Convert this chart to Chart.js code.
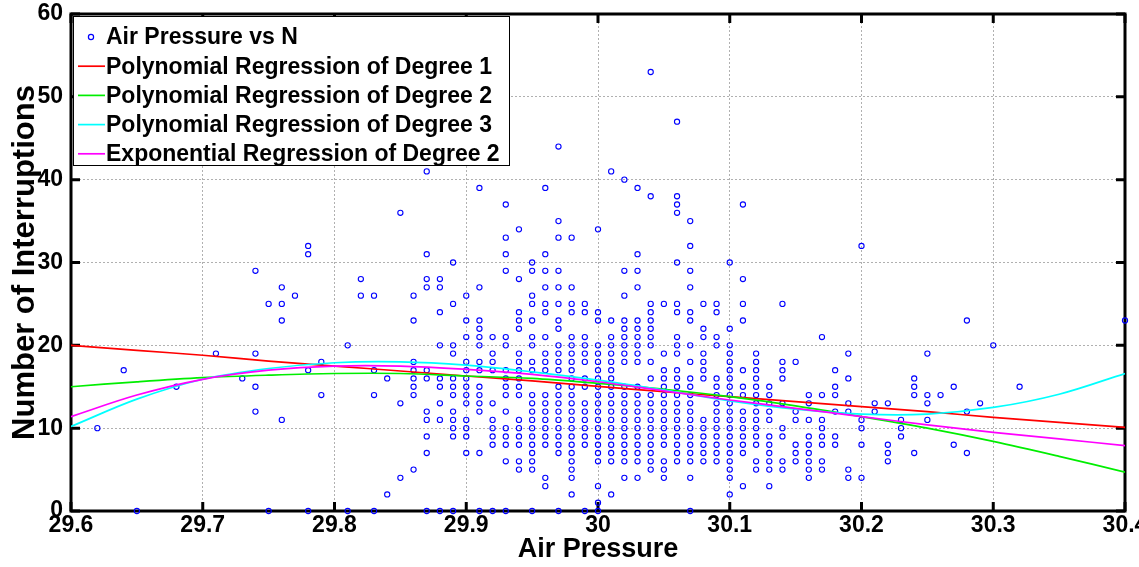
<!DOCTYPE html>
<html>
<head>
<meta charset="utf-8">
<script src="https://cdn.jsdelivr.net/npm/chart.js@4"></script>
<style>
html, body { margin: 0; padding: 0; background: #fff; overflow: hidden; }
#wrap { width: 1139px; height: 567px; position: relative; }
</style>
</head>
<body>
<div id="wrap"><canvas id="grafica"></canvas></div>
<script>
// observed air pressure values and the interruptions recorded at each one
const airPressure = [
    29.62, 29.64, 29.65, 29.68, 29.71, 29.73, 29.74, 29.75, 29.76, 29.77, 29.78, 29.79,
    29.81, 29.82, 29.83, 29.84, 29.85, 29.86, 29.87, 29.88, 29.89, 29.90,
    29.91, 29.92, 29.93, 29.94, 29.95, 29.96, 29.97, 29.98, 29.99, 30.00,
    30.01, 30.02, 30.03, 30.04, 30.05, 30.06, 30.07, 30.08, 30.09, 30.10,
    30.11, 30.12, 30.13, 30.14, 30.15, 30.16, 30.17, 30.18, 30.19, 30.20,
    30.21, 30.22, 30.23, 30.24, 30.25, 30.26, 30.27, 30.28, 30.29, 30.30, 30.32, 30.40
];
const interruptions = [
    [10], [17], [0], [15], [19], [16], [29, 19, 15, 12], [25, 0], [27, 25, 23, 11], [26], [32, 31, 17, 0], [18, 14],
    [20, 0], [28, 26], [26, 17, 14, 0], [16, 2], [36, 13, 4], [26, 23, 18, 17, 16, 15, 14, 5],
    [41, 31, 28, 27, 17, 16, 12, 11, 9, 7, 0],
    [28, 27, 24, 20, 16, 15, 13, 11, 0],
    [30, 25, 20, 19, 16, 15, 14, 12, 11, 10, 9, 0],
    [26, 23, 21, 18, 17, 16, 15, 14, 13, 11, 10, 9, 7],
    [39, 27, 23, 22, 21, 20, 18, 17, 15, 14, 13, 12, 7, 0],
    [21, 19, 18, 17, 13, 11, 10, 9, 8, 0],
    [37, 33, 31, 29, 21, 20, 17, 16, 15, 14, 12, 10, 9, 8, 6, 0],
    [34, 28, 24, 23, 22, 19, 18, 17, 16, 15, 14, 11, 10, 9, 8, 6, 5],
    [30, 29, 26, 25, 23, 21, 20, 18, 17, 14, 13, 12, 11, 10, 9, 8, 7, 6, 5, 0],
    [39, 31, 29, 27, 25, 24, 21, 19, 18, 17, 14, 13, 12, 11, 10, 9, 8, 4, 3],
    [44, 35, 33, 29, 27, 25, 23, 22, 20, 19, 18, 17, 15, 14, 13, 12, 11, 10, 9, 8, 7, 0],
    [33, 27, 25, 24, 21, 20, 19, 18, 17, 16, 15, 14, 13, 12, 11, 10, 9, 8, 7, 6, 5, 4, 2],
    [25, 24, 21, 20, 19, 18, 16, 15, 13, 12, 11, 10, 9, 8, 0],
    [34, 24, 23, 20, 19, 18, 17, 16, 15, 14, 13, 12, 11, 10, 9, 8, 7, 6, 3, 1, 0],
    [41, 23, 21, 20, 19, 18, 17, 16, 15, 14, 13, 12, 11, 10, 9, 8, 7, 6, 2],
    [40, 29, 26, 23, 22, 21, 20, 19, 18, 15, 14, 13, 12, 11, 10, 9, 8, 7, 6, 4],
    [39, 31, 29, 27, 23, 22, 21, 20, 19, 18, 15, 14, 13, 12, 11, 10, 9, 8, 7, 6, 4],
    [53, 38, 25, 24, 23, 22, 21, 20, 18, 16, 14, 13, 12, 11, 10, 9, 8, 7, 6, 5],
    [25, 19, 17, 16, 15, 14, 13, 12, 11, 10, 9, 8, 6, 5, 4],
    [47, 38, 37, 36, 30, 25, 24, 21, 20, 19, 17, 16, 15, 14, 13, 12, 11, 10, 9, 8, 7, 6],
    [35, 32, 29, 27, 24, 23, 20, 18, 16, 15, 14, 13, 12, 11, 10, 9, 8, 7, 6, 4, 0],
    [25, 22, 21, 19, 18, 17, 16, 11, 10, 9, 8, 7, 6],
    [25, 24, 21, 20, 16, 15, 14, 13, 12, 11, 10, 9, 8, 7, 6],
    [30, 22, 20, 19, 18, 17, 16, 15, 14, 13, 12, 11, 10, 9, 8, 7, 6, 5, 4, 2],
    [37, 28, 25, 23, 17, 15, 14, 12, 11, 10, 9, 8, 7, 3],
    [19, 18, 17, 16, 15, 14, 13, 12, 11, 10, 9, 8, 6, 5],
    [15, 14, 13, 12, 11, 9, 8, 7, 6, 5, 3],
    [25, 18, 17, 16, 13, 10, 9, 6, 5],
    [18, 12, 11, 8, 7, 6],
    [14, 13, 11, 9, 8, 7, 6, 5, 4],
    [21, 14, 11, 10, 9, 8, 6, 5],
    [17, 15, 14, 12, 9, 8],
    [19, 16, 13, 12, 5, 4],
    [32, 11, 10, 8, 4],
    [13, 12], [13, 8, 7, 6], [11, 10, 9], [16, 15, 14, 7], [19, 14, 13, 11], [14], [15, 8],
    [23, 12, 7], [13], [20], [15], [23]
];

// regression curves every 0.05
const fitX = [29.60, 29.65, 29.70, 29.75, 29.80, 29.85, 29.90, 29.95, 30.00,
              30.05, 30.10, 30.15, 30.20, 30.25, 30.30, 30.35, 30.40];
const poly1 = [20.0, 19.4, 18.8, 18.1, 17.5, 16.9, 16.3, 15.7, 15.05, 14.4, 13.8, 13.2, 12.6, 12.0, 11.3, 10.7, 10.1];
const poly2 = [15.0, 15.6, 16.1, 16.4, 16.6, 16.6, 16.3, 16.0, 15.4, 14.7, 13.8, 12.7, 11.4, 10.0, 8.4, 6.6, 4.7];
const poly3 = [10.2, 13.5, 15.9, 17.2, 17.9, 18.0, 17.6, 16.8, 15.8, 14.6, 13.3, 12.3, 11.7, 11.7, 12.5, 14.1, 16.6];
const expo2 = [11.4, 14.0, 15.9, 17.0, 17.5, 17.5, 17.1, 16.5, 15.6, 14.5, 13.4, 12.4, 11.4, 10.4, 9.5, 8.7, 7.9];

const xTicks = [29.6, 29.7, 29.8, 29.9, 30.0, 30.1, 30.2, 30.3, 30.4];
const yTicks = [0, 10, 20, 30, 40, 50, 60];

const fuente = "'Liberation Sans', Arial, Helvetica, sans-serif";
Chart.defaults.font.family = fuente;
Chart.defaults.color = "#000";

const puntos = [];
airPressure.forEach((p, i) => interruptions[i].forEach(n => puntos.push({ x: p, y: n })));
const curva = vals => fitX.map((x, i) => ({ x: x, y: vals[i] }));

function linea(label, vals, color, order) {
    return {
        label: label,
        data: curva(vals),
        showLine: true,
        borderColor: color,
        backgroundColor: color,
        borderWidth: 1.7,
        pointRadius: 0,
        tension: 0.35,
        order: order
    };
}

// axis box with inward ticks, drawn under the data like matlab does
const marco = {
    id: "marco",
    beforeDatasetsDraw(chart) {
        const { ctx, chartArea: a, scales: { x, y } } = chart;
        ctx.save();
        ctx.strokeStyle = "#000";
        ctx.lineWidth = 3;
        ctx.strokeRect(a.left, a.top, a.right - a.left, a.bottom - a.top);
        ctx.beginPath();
        xTicks.forEach(t => {
            const px = x.getPixelForValue(t);
            ctx.moveTo(px, a.bottom); ctx.lineTo(px, a.bottom - 9);
            ctx.moveTo(px, a.top); ctx.lineTo(px, a.top + 9);
        });
        yTicks.forEach(t => {
            const py = y.getPixelForValue(t);
            ctx.moveTo(a.left, py); ctx.lineTo(a.left + 9, py);
            ctx.moveTo(a.right, py); ctx.lineTo(a.right - 9, py);
        });
        ctx.stroke();
        ctx.restore();
    }
};

// legend box inside the upper left corner
const leyenda = {
    id: "leyenda",
    afterDraw(chart) {
        const { ctx, chartArea: a } = chart;
        const left = a.left + 2, top = a.top + 2, w = 436, h = 149;
        ctx.save();
        ctx.fillStyle = "#fff";
        ctx.fillRect(left, top, w, h);
        ctx.strokeStyle = "#000";
        ctx.lineWidth = 1;
        ctx.strokeRect(left + 0.5, top + 0.5, w, h);
        ctx.font = "bold 23px " + fuente;
        ctx.textBaseline = "middle";
        chart.data.datasets.forEach((ds, i) => {
            const cy = top + 21 + i * 29.2;
            if (ds.showLine) {
                ctx.strokeStyle = ds.borderColor;
                ctx.lineWidth = 1.7;
                ctx.beginPath();
                ctx.moveTo(left + 5, cy);
                ctx.lineTo(left + 32, cy);
                ctx.stroke();
            } else {
                ctx.strokeStyle = ds.borderColor;
                ctx.lineWidth = 1.2;
                ctx.beginPath();
                ctx.arc(left + 18, cy, 2.6, 0, Math.PI * 2);
                ctx.stroke();
            }
            ctx.fillStyle = "#000";
            ctx.fillText(ds.label, left + 33, cy + 1);
        });
        ctx.restore();
    }
};

new Chart(document.getElementById("grafica").getContext("2d"), {
    type: "scatter",
    data: {
        datasets: [
            {
                label: "Air Pressure vs N",
                data: puntos,
                borderColor: "#0000ff",
                backgroundColor: "rgba(0,0,0,0)",
                pointRadius: 2.6,
                pointBorderWidth: 1.1,
                clip: false,
                order: 4
            },
            linea("Polynomial Regression of Degree 1", poly1, "#ff0000", 3),
            linea("Polynomial Regression of Degree 2", poly2, "#00ee00", 2),
            linea("Polynomial Regression of Degree 3", poly3, "#00ffff", 1),
            linea("Exponential Regression of Degree 2", expo2, "#ff00ff", 0)
        ]
    },
    options: {
        responsive: true,
        maintainAspectRatio: false,
        animation: false,
        layout: { padding: { top: 14, left: 0, right: 0, bottom: 0 } },
        plugins: { legend: { display: false }, tooltip: { enabled: false } },
        scales: {
            x: {
                type: "linear",
                min: 29.6,
                max: 30.4,
                afterBuildTicks: s => { s.ticks = xTicks.map(v => ({ value: v })); },
                ticks: {
                    font: { size: 23, weight: "bold" },
                    padding: 1,
                    maxRotation: 0,
                    callback: v => String(+v.toFixed(1))
                },
                grid: { color: "#b0b0b0", lineWidth: 1, drawTicks: false },
                border: { display: false, dash: [2, 2] },
                title: {
                    display: true,
                    text: "Air Pressure",
                    font: { size: 27, weight: "bold", lineHeight: 1 },
                    padding: { top: 0, bottom: 4 }
                },
                afterFit: s => { s.height = 56; s.paddingLeft = 0; s.paddingRight = 14; }
            },
            y: {
                min: 0,
                max: 60,
                afterBuildTicks: s => { s.ticks = yTicks.map(v => ({ value: v })); },
                ticks: { font: { size: 23, weight: "bold" }, padding: 8 },
                grid: { color: "#b0b0b0", lineWidth: 1, drawTicks: false },
                border: { display: false, dash: [2, 2] },
                title: {
                    display: true,
                    text: "Number of Interruptions",
                    font: { size: 31, weight: "bold", lineHeight: 1 },
                    padding: { top: 10, bottom: 0 }
                },
                afterFit: s => { s.width = 71; s.paddingTop = 0; s.paddingBottom = 0; }
            }
        }
    },
    plugins: [marco, leyenda]
});
</script>
</body>
</html>
